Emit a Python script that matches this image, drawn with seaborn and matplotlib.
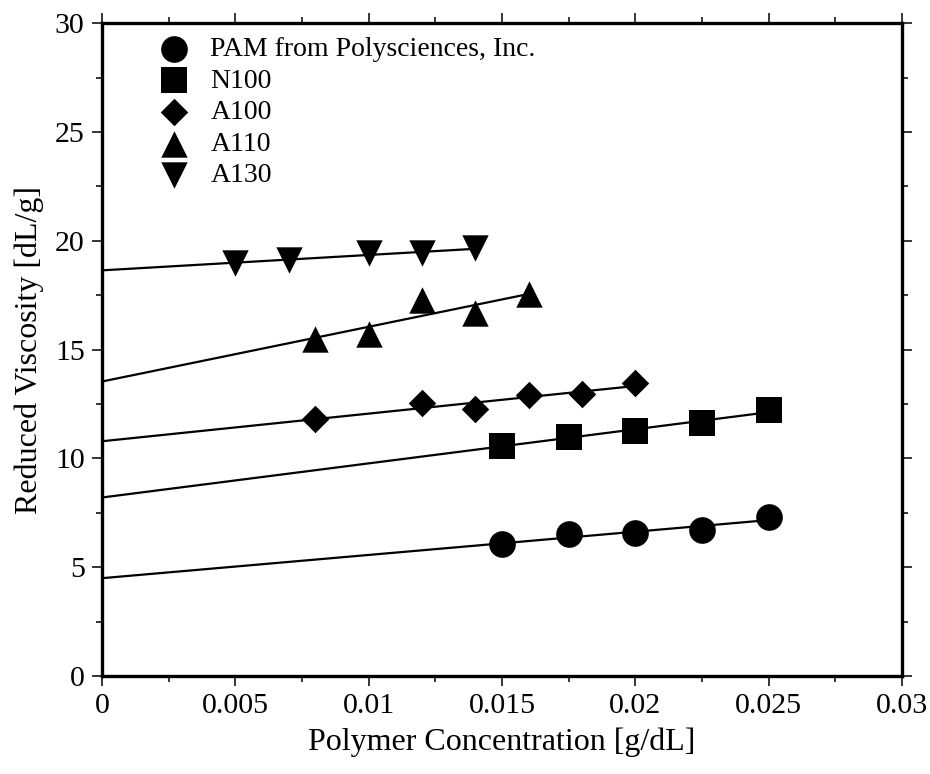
import numpy as np
import matplotlib
matplotlib.use("Agg")
import matplotlib.pyplot as plt
import seaborn as sns
from matplotlib.ticker import MultipleLocator

# Data
pam_x = [0.015, 0.0175, 0.020, 0.0225, 0.025]
pam_y = [6.06, 6.52, 6.57, 6.71, 7.30]

n100_x = [0.015, 0.0175, 0.020, 0.0225, 0.025]
n100_y = [10.58, 10.99, 11.28, 11.63, 12.22]

a100_x = [0.008, 0.012, 0.014, 0.016, 0.018, 0.020]
a100_y = [11.80, 12.55, 12.25, 12.90, 12.95, 13.46]

a110_x = [0.008, 0.010, 0.012, 0.014, 0.016]
a110_y = [15.51, 15.74, 17.27, 16.69, 17.55]

a130_x = [0.005, 0.007, 0.010, 0.012, 0.014]
a130_y = [18.98, 19.14, 19.42, 19.42, 19.65]

labels = ["PAM from Polysciences, Inc.", "N100", "A100", "A110", "A130"]

sns.set_style("ticks", {"axes.edgecolor": "black", "text.color": "black",
                        "axes.labelcolor": "black", "xtick.color": "black",
                        "ytick.color": "black"})
plt.rcParams["font.family"] = ["Liberation Serif", "DejaVu Serif"]

fig = plt.figure(figsize=(9.3, 7.74), dpi=100)
ax = fig.add_axes([0.1097, 0.1266, 0.8603, 0.8434])

series = [
    (pam_x, pam_y, "o", 19.2),
    (n100_x, n100_y, "s", 18.6),
    (a100_x, a100_y, "D", 14.0),
    (a110_x, a110_y, "^", 19.0),
    (a130_x, a130_y, "v", 19.0),
]

# linear fit lines, drawn from x = 0 to the last point
for (xs, ys, m, ms), lab in zip(series, labels):
    k, b = np.polyfit(xs, ys, 1)
    xx = np.array([0, max(xs)])
    ax.plot(xx, k * xx + b, color="black", lw=1.6, zorder=2)

for (xs, ys, m, ms), lab in zip(series, labels):
    sns.scatterplot(x=xs, y=ys, marker=m, s=ms ** 2, color="black",
                    edgecolor="black", linewidth=0, label=lab, ax=ax, zorder=3)

ax.set_xlim(0, 0.03)
ax.set_ylim(0, 30)
ax.xaxis.set_major_locator(MultipleLocator(0.005))
ax.xaxis.set_minor_locator(MultipleLocator(0.0025))
ax.yaxis.set_major_locator(MultipleLocator(5))
ax.yaxis.set_minor_locator(MultipleLocator(2.5))
ax.set_xticks([0, 0.005, 0.01, 0.015, 0.02, 0.025, 0.03])
ax.set_xticklabels(["0", "0.005", "0.01", "0.015", "0.02", "0.025", "0.03"])

for sp in ax.spines.values():
    sp.set_linewidth(2.4)
    sp.set_color("black")
    sp.set_visible(True)
ax.tick_params(which="both", direction="out", top=True, right=True,
               width=1.1, labelsize=21.5, colors="black")
ax.tick_params(which="major", length=7.5, pad=5)
ax.tick_params(which="minor", length=4)

ax.set_xlabel("Polymer Concentration [g/dL]", fontsize=23, labelpad=6, color="black")
ax.set_ylabel("Reduced Viscosity [dL/g]", fontsize=23, labelpad=8, color="black")

leg = ax.legend(loc="upper left", frameon=False, fontsize=20, borderaxespad=0.1,
                bbox_to_anchor=(0.045, 0.992), handletextpad=0.3, labelspacing=0.22,
                borderpad=0.2)
for t in leg.get_texts():
    t.set_color("black")

fig.savefig("out.png", dpi=100)
